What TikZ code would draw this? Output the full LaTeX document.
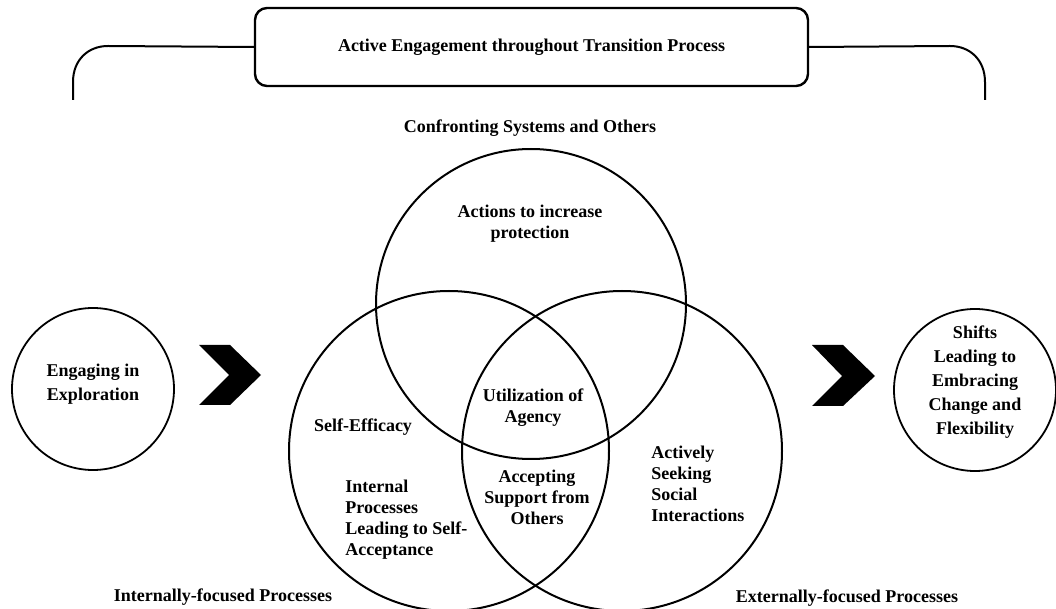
\documentclass[tikz,border=0pt]{standalone}
\usepackage{fontspec}
\setmainfont{Liberation Serif}
\usetikzlibrary{positioning}

\begin{document}
\begin{tikzpicture}[x=0.5pt, y=-0.5pt,
  font=\bfseries\fontsize{9}{10.5}\selectfont,
  venn/.style={circle, draw, line width=1pt, minimum size=160pt, inner sep=0pt},
  endring/.style={circle, draw, line width=0.9pt, minimum size=81pt, inner sep=0pt},
  endtext/.style={align=center, inner sep=0pt, font=\bfseries\fontsize{9}{12}\selectfont},
  framebox/.style={draw, line width=1.2pt, rounded corners=6pt, minimum width=276.5pt,
    minimum height=39pt, inner sep=0pt},
  lbl/.style={align=center, inner sep=0pt},
  lbll/.style={align=left, inner sep=0pt, anchor=west},
  chevron/.style={fill=black},
  ]
  \useasboundingbox (0,0) rectangle (1056,609);

  % overall frame with its bracket
  \node[framebox] (eng) at (531.5,47) {Active Engagement throughout Transition Process};
  \coordinate (bl) at (73,100);
  \coordinate (br) at (985,100);
  \draw[line width=1pt] (eng.west) -- (108,46) .. controls (88,46) and (73,60) .. (73,82) -- (bl);
  \draw[line width=1pt] (eng.east) -- (950,46) .. controls (970,46) and (985,60) .. (985,82) -- (br);

  % three overlapping processes
  \node[venn, minimum size=155pt] (sys) at (531,304) {};
  \node[venn] (inner) at (449,451) {};
  \node[venn] (outer) at (622,451) {};

  \node[lbl] (conf) at (530,128) {Confronting Systems and Others};
  \node[lbl] (prot) at (530,224) {Actions to increase\\protection};
  \node[lbl] (agency) at (533,408) {Utilization of\\Agency};
  \node[lbl] (eff) at (363,427) {Self-Efficacy};
  \node[lbll] (selfacc) at (345,520) {Internal\\Processes\\Leading to Self-\\Acceptance};
  \node[lbl] (support) at (537,497) {Accepting\\Support from\\Others};
  \node[lbll] (social) at (651,484) {Actively\\Seeking\\Social\\Interactions};
  \node[lbl] (intl) at (223,597) {Internally-focused Processes};
  \node[lbl] (extl) at (847,598) {Externally-focused Processes};

  % start and end states
  \node[endring] (explore) at (93,389) {};
  \node[endtext] (exploretxt) at ([yshift=2.5pt]explore.center) {Engaging in\\Exploration};
  \node[endring] (shift) at (975,390) {};
  \node[endtext] (shifttxt) at ([yshift=4pt]shift.center)
    {Shifts\\Leading to\\Embracing\\Change and\\Flexibility};

  % arrows between stages
  \fill[chevron] (199,345) -- (230,345) -- (261,375) -- (230,405) -- (199,405) -- (229,375) -- cycle;
  \fill[chevron] (812,345) -- (843,345) -- (875,376) -- (843,406) -- (812,406) -- (842,376) -- cycle;
\end{tikzpicture}
\end{document}
